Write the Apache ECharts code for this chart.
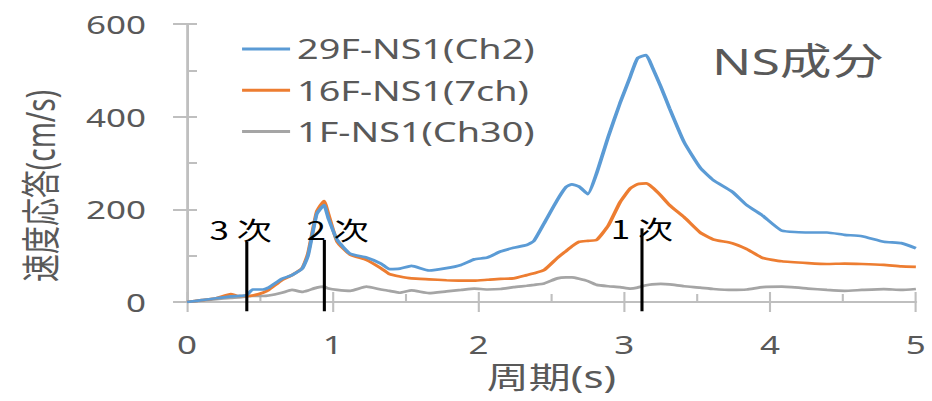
<!DOCTYPE html>
<html><head><meta charset="utf-8">
<script src="https://cdn.jsdelivr.net/npm/echarts@6/dist/echarts.min.js"></script>
<style>
html,body{margin:0;padding:0;background:#fff;overflow:hidden;width:932px;height:401px;}
#frame{position:absolute;left:5px;top:4px;width:940px;height:420px;border-left:1px solid #d9d9d9;border-top:1px solid #d9d9d9;}
#chart{position:absolute;left:0;top:0;width:665.714px;height:401px;transform:scaleX(1.4);transform-origin:0 0;}
</style></head><body><div id="frame"></div><div id="chart"></div>
<script>
// ---- data ----
const periods = [0, 0.1, 0.2, 0.3, 0.35, 0.41, 0.45, 0.52, 0.56, 0.65, 0.72, 0.79, 0.83, 0.89, 0.94, 0.97, 1.03, 1.12, 1.23, 1.33, 1.39, 1.46, 1.54, 1.66, 1.78, 1.88, 1.97, 2.06, 2.15, 2.24, 2.33, 2.38, 2.45, 2.54, 2.6, 2.64, 2.69, 2.75, 2.81, 2.89, 2.97, 3.04, 3.09, 3.15, 3.19, 3.25, 3.31, 3.41, 3.52, 3.61, 3.74, 3.84, 3.95, 4.08, 4.26, 4.39, 4.51, 4.63, 4.78, 4.9, 5.0];
const resp29F = [0, 4, 8, 12, 13, 15, 27, 27, 31, 50, 58, 72, 100, 190, 209, 180, 134, 104, 96, 83, 71, 72, 78, 68, 73, 80, 92, 96, 109, 117, 123, 132, 170, 220, 248, 254, 249, 233, 278, 357, 429, 486, 526, 533, 508, 465, 418, 345, 290, 263, 238, 209, 186, 154, 150, 150, 145, 142, 130, 127, 116];
const resp16F = [0, 4, 8, 17, 13, 13, 14, 20, 26, 47, 58, 73, 105, 195, 218, 190, 130, 102, 91, 73, 60, 55, 51, 49, 47, 46, 46, 48, 50, 51, 58, 62, 69, 95, 110, 120, 130, 132, 134, 165, 215, 245, 254, 256, 248, 230, 209, 183, 150, 135, 127, 114, 95, 88, 84, 82, 83, 82, 80, 77, 76];
const resp1F = [0, 3, 6, 9, 10, 12, 13, 13, 14, 20, 26, 22, 25, 31, 33, 29, 26, 24, 33, 27, 24, 20, 25, 19, 23, 26, 29, 27, 28, 32, 35, 37, 40, 51, 53, 53, 50, 45, 37, 34, 32, 29, 31, 36, 38, 39, 38, 34, 31, 28, 26, 27, 32, 33, 29, 26, 24, 26, 28, 26, 28];
const seriesNames = ['29F-NS1(Ch2)', '16F-NS1(7ch)', '1F-NS1(Ch30)'];
const seriesColors = ['#5B9BD5', '#ED7D31', '#A5A5A5'];
const xMin = 0, xMax = 5, xStep = 1;
const yMin = 0, yMax = 600, yStep = 200;
const modeLabels = ['3 次', '2 次', '1 次'];
const modePeriods = [0.41, 0.942, 3.121];
const modeTops = [130, 134, 159];
const modeBottom = -20;
const titleText = 'NS成分';
const xName = '周期(s)';
const yName = '速度応答(cm/s)';

// ---- styles ----
const txt = '#595959';
const axisGray = '#BFBFBF';
const latin = "'Noto Sans', 'Noto Sans CJK JP', sans-serif";
const labelOffsets = [[-4.4, 0], [9.4, 1.5], [0, 13]];

const chart = echarts.init(document.getElementById('chart'), null, { renderer: 'svg' });

const valueSeries = [resp29F, resp16F, resp1F].map((vals, i) => ({
  name: seriesNames[i],
  type: 'line',
  xAxisIndex: 0, yAxisIndex: 0,
  data: periods.map((p, k) => [p, vals[k]]),
  symbol: 'none',
  smooth: 0.15,
  lineStyle: { color: seriesColors[i], width: 2.7 },
  itemStyle: { color: seriesColors[i] },
  z: 3 - i
}));

const modeSeries = modePeriods.map((p, i) => ({
  name: 'mode' + i,
  type: 'line',
  xAxisIndex: 0, yAxisIndex: 0,
  clip: false,
  silent: true,
  symbol: 'circle',
  symbolSize: 0.1,
  showSymbol: true,
  itemStyle: { color: '#000' },
  lineStyle: { color: '#000', width: 2.2 },
  z: 10,
  data: [
    [p, modeBottom],
    { value: [p, modeTops[i]],
      label: { show: true, position: 'top', distance: 0, formatter: modeLabels[i],
               offset: labelOffsets[i], color: '#000', fontSize: 25, lineHeight: 25,
               fontFamily: "'Noto Sans CJK JP', sans-serif" } }
  ]
}));

const option = {
  backgroundColor: '#fff',
  animation: false,
  title: {
    text: titleText, left: 508.6, top: 42, padding: 0,
    textStyle: { color: txt, fontSize: 37, lineHeight: 38, fontWeight: 'normal', fontFamily: latin }
  },
  legend: {
    data: seriesNames,
    orient: 'vertical', left: 172.9, top: 35,
    icon: 'rect',
    itemWidth: 34.3, itemHeight: 3, itemGap: 13.3, padding: 0,
    textStyle: { color: txt, fontSize: 27, lineHeight: 28, fontFamily: latin }
  },
  grid: { left: 133.6, right: 11.8, top: 24, bottom: 99, containLabel: false },
  xAxis: [{
    type: 'value', min: xMin, max: xMax, interval: xStep, position: 'bottom',
    name: xName, nameLocation: 'middle', nameGap: 59,
    nameTextStyle: { color: txt, fontSize: 30, lineHeight: 30, fontFamily: latin },
    axisLine: { show: true, lineStyle: { color: axisGray, width: 2 } },
    axisTick: { show: true, inside: false, length: 10, lineStyle: { color: axisGray, width: 1.5 } },
    axisLabel: { color: txt, fontSize: 25, lineHeight: 25, margin: 30, fontFamily: latin },
    splitLine: { show: false }
  }, {
    type: 'value', min: xMin, max: xMax, interval: xStep, position: 'bottom',
    axisLine: { show: false },
    axisTick: { show: true, inside: true, length: 10, lineStyle: { color: axisGray, width: 1.5 } },
    minorTick: { show: true, splitNumber: 2, length: 8, lineStyle: { color: axisGray, width: 1.5 } },
    axisLabel: { show: false },
    splitLine: { show: false }
  }],
  yAxis: [{
    type: 'value', min: yMin, max: yMax, interval: yStep, position: 'left',
    name: yName, nameLocation: 'middle', nameGap: 90,
    nameTextStyle: { color: txt, fontSize: 28, lineHeight: 30, fontFamily: latin, padding: [0, 46, 0, 0] },
    axisLine: { show: true, lineStyle: { color: axisGray, width: 2 } },
    axisTick: { show: true, inside: false, length: 10, lineStyle: { color: axisGray, width: 2 } },
    axisLabel: { color: txt, fontSize: 25, margin: 29.3, fontFamily: latin },
    splitLine: { show: false }
  }, {
    type: 'value', min: yMin, max: yMax, interval: yStep, position: 'left',
    axisLine: { show: false },
    axisTick: { show: true, inside: true, length: 7.1, lineStyle: { color: axisGray, width: 2 } },
    minorTick: { show: true, splitNumber: 2, length: 7.1, lineStyle: { color: axisGray, width: 2 } },
    axisLabel: { show: false },
    splitLine: { show: false }
  }],
  series: valueSeries.concat(modeSeries)
};
chart.setOption(option);
</script></body></html>
